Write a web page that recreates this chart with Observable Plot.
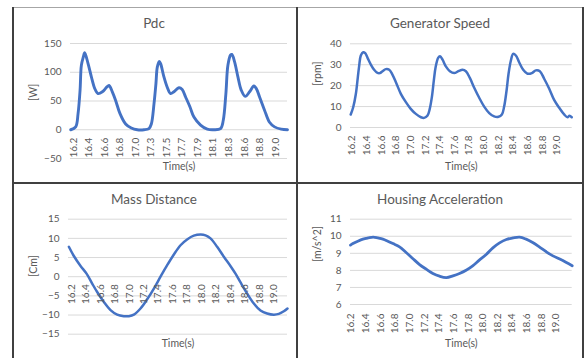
<!DOCTYPE html>
<html><head><meta charset="utf-8">
<script src="https://cdn.jsdelivr.net/npm/d3@7"></script>
<script src="https://cdn.jsdelivr.net/npm/@observablehq/plot@0.6"></script>
<style>
body{margin:0;background:#fff;}
#root{position:relative;width:584px;height:358px;overflow:hidden;font-family:Lato,"Open Sans",sans-serif;background:#fff;}
.ln{position:absolute;background:#404040;}
.panel{position:absolute;}
.title{position:absolute;transform:translate(-50%,-50%);font-size:13.5px;color:#595959;white-space:nowrap;}
</style></head><body><div id="root"></div>
<script>
// ---- Pdc [W]
const pdcTime  = [16.143,16.212,16.245,16.273,16.291,16.319,16.337,16.384,16.43,16.476,16.522,16.583,16.643,16.675,16.721,16.767,16.828,16.906,16.985,17.068,17.161,17.23,17.263,17.3,17.327,17.346,17.374,17.392,17.438,17.484,17.53,17.577,17.646,17.692,17.739,17.799,17.855,17.947,18.04,18.133,18.225,18.262,18.299,18.327,18.364,18.382,18.42,18.466,18.512,18.568,18.628,18.688,18.72,18.767,18.836,18.905,18.975,19.067,19.155];
const pdcValue = [0,5,28,69,112,127,134,115,92,72,63,66,74,77,66,51,28,10,3,0,0,2,10,45,80,109,119,115,92,74,63,66,73,70,57,40,22,8,1,0,2,16,63,112,130,131,118,92,69,58,66,76,72,57,34,13,5,1,0];
const pdcTickLabels = ["16.2","16.4","16.6","16.8","17.0","17.3","17.5","17.7","17.9","18.1","18.3","18.6","18.8","19.0"];
const pdcTickPos = [16.18,16.396,16.612,16.828,17.044,17.26,17.476,17.692,17.908,18.124,18.34,18.556,18.772,18.988];
const pdcYTicks = [-50,0,50,100,150];

// ---- Generator Speed [rpm]
const genTime  = [16.18,16.214,16.25,16.277,16.296,16.318,16.35,16.378,16.41,16.455,16.5,16.546,16.578,16.615,16.66,16.706,16.75,16.806,16.865,16.934,17.0,17.07,17.14,17.184,17.23,17.26,17.289,17.316,17.34,17.375,17.40,17.435,17.48,17.535,17.594,17.653,17.708,17.754,17.808,17.868,17.936,18.004,18.073,18.14,18.2,18.246,18.277,18.31,18.337,18.369,18.4,18.437,18.482,18.537,18.596,18.656,18.71,18.765,18.824,18.893,18.96,19.03,19.1,19.143,19.17,19.2];
const genValue = [6.2,9.7,16,24,29.6,34.4,36,35.5,33.3,30.1,27.6,26.1,26,26.9,27.9,27.6,25.3,20.9,16.1,12.1,8.9,6.5,4.9,4.6,5.7,8.9,14.5,22.5,28.8,33.3,34.1,32.4,29.2,26.9,26,26.9,27.6,26.9,23.7,19,14.2,10,6.9,5.3,5.1,6.2,10,17.7,25.7,32,35.2,34.4,31.2,27.6,25.7,26,27.3,26.9,23.3,18.5,13.2,9.4,6.1,4.9,5.6,4.9];
const genTickLabels = ["16.2","16.4","16.6","16.8","17.0","17.2","17.4","17.6","17.8","18.0","18.2","18.4","18.6","18.8","19.0"];
const genYTicks = [0,10,20,30,40];

// ---- Mass Distance [Cm]
const massTime  = [16.163,16.232,16.325,16.408,16.486,16.555,16.648,16.74,16.832,16.924,16.994,17.063,17.155,17.247,17.34,17.432,17.524,17.617,17.709,17.8,17.893,17.986,18.055,18.124,18.216,18.309,18.4,18.47,18.54,18.632,18.724,18.816,18.908,19.0,19.07,19.14,19.19];
const massValue = [7.8,5.4,2.8,0.8,-1.8,-4.0,-6.6,-8.7,-9.9,-10.3,-10.3,-9.9,-8.3,-5.9,-3.1,0,3.0,5.8,8.2,9.7,10.7,11.0,10.8,10.0,7.8,5.2,2.8,0.8,-1.5,-4.4,-7.0,-8.8,-9.6,-9.9,-9.7,-9.0,-8.3];
const massTickLabels = ["16.2","16.4","16.6","16.8","17.0","17.2","17.4","17.6","17.8","18.0","18.2","18.4","18.6","18.8","19.0"];
const massYTicks = [-15,-10,-5,0,5,10,15];

// ---- Housing Acceleration [m/s^2]
const houTime  = [16.19,16.223,16.29,16.36,16.43,16.5,16.565,16.633,16.7,16.77,16.86,16.95,17.04,17.134,17.225,17.316,17.407,17.5,17.59,17.68,17.77,17.86,17.95,18.045,18.136,18.227,18.32,18.41,18.5,18.59,18.68,18.77,18.866,18.956,19.05,19.14,19.22];
const houValue = [9.48,9.57,9.71,9.83,9.9,9.95,9.9,9.83,9.71,9.57,9.38,9.05,8.7,8.34,8.07,7.82,7.66,7.58,7.68,7.82,8.01,8.27,8.6,8.93,9.32,9.61,9.81,9.9,9.95,9.83,9.63,9.38,9.09,8.85,8.66,8.46,8.27];
const houTickLabels = ["16.2","16.4","16.6","16.8","17.0","17.2","17.4","17.6","17.8","18.0","18.2","18.4","18.6","18.8","19.0"];
const houYTicks = [6,7,8,9,10,11];

const root = document.getElementById("root");
function line(x,y,w,h,color){const d=document.createElement("div");d.className="ln";Object.assign(d.style,{left:x+"px",top:y+"px",width:w+"px",height:h+"px"});if(color)d.style.background=color;root.appendChild(d);}
line(12,7,572,1,"#a6a6a6");
line(12,7,2,351);
line(582,7,2,351);
line(296,7,2,351);
line(12,182,572,2);

function panel(c){
  const data = c.time.map((t,i)=>({t, v:c.value[i]}));
  const ticks = c.tickLabels.map((label,i)=>({pos:c.tickPos[i], label}));
  const svg = Plot.plot({
    width:c.w, height:c.h,
    marginLeft:c.px0-c.left, marginRight:c.left+c.w-c.px1,
    marginTop:c.py0-c.top, marginBottom:c.top+c.h-c.py1,
    style:{fontFamily:"Lato, 'Open Sans', sans-serif", fontSize:"10px", color:"#595959", background:"transparent", overflow:"visible"},
    x:{domain:c.xDomain, axis:null},
    y:{domain:c.yDomain},
    marks:[
      Plot.gridY(c.yTicks,{stroke:"#d9d9d9",strokeOpacity:1,strokeWidth:1}),
      Plot.axisY(c.yTicks,{tickSize:0,tickPadding:9,label:null,fill:"#595959"}),
      Plot.line(data,{x:"t",y:"v",stroke:"#4472c4",strokeWidth:c.sw,curve:"catmull-rom"}),
      Plot.text(ticks,{x:"pos",y:()=>c.labelBase,text:"label",rotate:-90,textAnchor:"end",dy:c.labelDy,fill:"#595959",fontSize:10}),
      Plot.text(["Time(s)"],{text:d=>d,frameAnchor:"bottom",lineAnchor:"middle",dy:c.timeDy,fill:"#595959",fontSize:10.5}),
      Plot.text([c.yLabel],{text:d=>d,frameAnchor:"left",lineAnchor:"middle",dx:c.yLabelDx,rotate:-90,fill:"#595959",fontSize:10.5})
    ]
  });
  const div=document.createElement("div");div.className="panel";
  Object.assign(div.style,{left:c.left+"px",top:c.top+"px",width:c.w+"px",height:c.h+"px"});
  div.appendChild(svg);root.appendChild(div);
  const t=document.createElement("div");t.className="title";t.textContent=c.title;
  Object.assign(t.style,{left:c.titleX+"px",top:c.titleY+"px"});root.appendChild(t);
}

panel({title:"Pdc",titleX:154,titleY:23,left:14,top:8,w:282,h:174,px0:70,px1:287,py0:43,py1:158,
  xDomain:[16.14,19.155],yDomain:[-50,150],yTicks:pdcYTicks,time:pdcTime,value:pdcValue,
  tickLabels:pdcTickLabels,tickPos:pdcTickPos,labelBase:0,labelDy:8,timeDy:8,yLabel:"[W]",yLabelDx:-37,sw:2.9});
panel({title:"Generator Speed",titleX:440,titleY:23,left:298,top:8,w:284,h:174,px0:350,px1:571.7,py0:43.3,py1:127,
  xDomain:[16.177,19.207],yDomain:[0,40],yTicks:genYTicks,time:genTime,value:genValue,
  tickLabels:genTickLabels,tickPos:genTickLabels.map(Number),labelBase:0,labelDy:8,timeDy:39,yLabel:"[rpm]",yLabelDx:-33,sw:2.5});
panel({title:"Mass Distance",titleX:154,titleY:199,left:14,top:184,w:282,h:174,px0:68,px1:287,py0:218.7,py1:333.7,
  xDomain:[16.158,19.19],yDomain:[-15,15],yTicks:massYTicks,time:massTime,value:massValue,
  tickLabels:massTickLabels,tickPos:massTickLabels.map(Number),labelBase:0,labelDy:7.5,timeDy:9,yLabel:"[Cm]",yLabelDx:-35,sw:2.5});
panel({title:"Housing Acceleration",titleX:440,titleY:199,left:298,top:184,w:284,h:174,px0:350,px1:571.7,py0:218.7,py1:304,
  xDomain:[16.19,19.22],yDomain:[6,11],yTicks:houYTicks,time:houTime,value:houValue,
  tickLabels:houTickLabels,tickPos:houTickLabels.map(Number),labelBase:6,labelDy:9,timeDy:39,yLabel:"[m/s^2]",yLabelDx:-33,sw:2.8});
</script></body></html>
